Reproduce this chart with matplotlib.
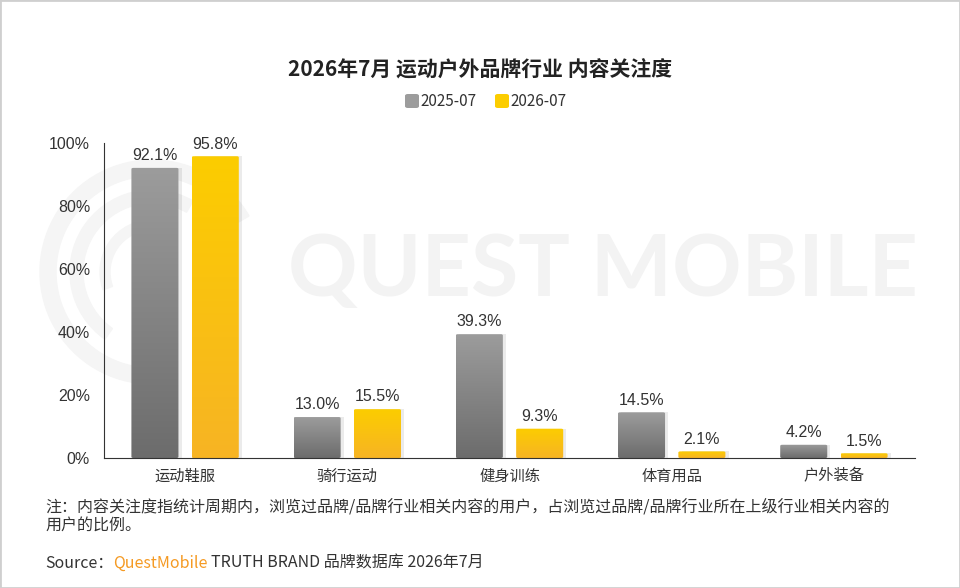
import numpy as np
import matplotlib
matplotlib.use("Agg")
import matplotlib.pyplot as plt
from matplotlib.patches import Wedge, Rectangle, FancyBboxPatch

plt.rcParams['font.family'] = ['Noto Sans CJK SC', 'DejaVu Sans']

categories = ["运动鞋服", "骑行运动", "健身训练", "体育用品", "户外装备"]
series_names = ["2025-07", "2026-07"]
vals_2025 = [92.1, 13.0, 39.3, 14.5, 4.2]
vals_2026 = [95.8, 15.5, 9.3, 2.1, 1.5]
yticks = [0, 20, 40, 60, 80, 100]

gray_top, gray_bot = "#9c9c9c", "#6c6c6c"
gold_top, gold_bot = "#fccd00", "#f7b424"

fig = plt.figure(figsize=(9.6, 5.88), dpi=100)
fig.patches.append(Rectangle((0, 0), 1, 1, transform=fig.transFigure,
                             fill=False, edgecolor="#cfcfcf", linewidth=2))

# watermark
wm = fig.add_axes([0, 0, 1, 1], zorder=-1)
wm.set_xlim(0, 960)
wm.set_ylim(588, 0)
wm.axis("off")
wm.text(288, 272, "QUEST MOBILE", fontsize=62, color="#f3f3f3",
        family="Lato", weight="bold", va="center", ha="left")
for r, w, t1, t2 in [(112, 16, 95, 330), (82, 13, 125, 300), (52, 10, 160, 270)]:
    wm.add_patch(Wedge((152, 272), r, t1, t2, width=w, color="#f5f5f5",
                       transform=wm.transData))

ax = fig.add_axes([104 / 960, 1 - 458 / 588, 811 / 960, 315 / 588])
ax.patch.set_alpha(0)
x = np.arange(len(categories))
bw = 0.29
off = 0.186


def grad_bar(xc, h, c_top, c_bot):
    # shadow
    ax.bar(xc + 0.02, h, bw, bottom=0, color="#000000", alpha=0.08, zorder=1)
    bar = ax.bar(xc, h, bw, color="none", zorder=2)[0]
    grad = np.linspace(0, 1, 256).reshape(-1, 1)
    ct = np.array(matplotlib.colors.to_rgb(c_top))
    cb = np.array(matplotlib.colors.to_rgb(c_bot))
    img = ct + (cb - ct) * grad[..., None]
    img = img.reshape(256, 1, 3)
    im = ax.imshow(img, extent=[xc - bw / 2, xc + bw / 2, 0, h],
                   aspect="auto", zorder=2, origin="upper")
    clip = FancyBboxPatch((xc - bw / 2, 0), bw, h,
                          boxstyle="round,pad=0,rounding_size=0.012",
                          mutation_aspect=30, transform=ax.transData,
                          facecolor="none", edgecolor="none")
    ax.add_patch(clip)
    im.set_clip_path(clip)
    ax.text(xc, h + 1.5, f"{h:.1f}%", ha="center", va="bottom",
            fontsize=11.5, color="#333333", family="Liberation Sans")
    return bar


for i in range(len(categories)):
    grad_bar(x[i] - off, vals_2025[i], gray_top, gray_bot)
    grad_bar(x[i] + off, vals_2026[i], gold_top, gold_bot)

ax.set_xlim(-0.5, len(categories) - 0.5)
ax.set_ylim(0, 100)
ax.set_yticks(yticks)
ax.set_yticklabels([f"{v}%" for v in yticks], fontsize=11.5, color="#333333",
                   family="Liberation Sans")
ax.set_xticks(x)
ax.set_xticklabels(categories, fontsize=11, color="#333333")
ax.tick_params(axis="both", length=0, pad=10)
ax.tick_params(axis="x", pad=7)
for s in ["top", "right"]:
    ax.spines[s].set_visible(False)
ax.spines["left"].set_color("#333333")
ax.spines["bottom"].set_color("#333333")

fig.text(0.5, 1 - 70 / 588, "2026年7月 运动户外品牌行业 内容关注度", ha="center",
         va="center", fontsize=15, weight="bold", color="#222222")

# legend
lx = [405, 495]
for i, name in enumerate(series_names):
    c = [gray_top, gold_top][i]
    fig.patches.append(FancyBboxPatch(((lx[i]) / 960, 1 - 108 / 588), 14 / 960, 14 / 588,
                                      boxstyle="round,pad=0,rounding_size=0.003",
                                      transform=fig.transFigure, facecolor=c,
                                      edgecolor="none"))
    fig.text((lx[i] + 15) / 960, 1 - 101 / 588, name, ha="left", va="center",
             fontsize=11, color="#333333")

fig.text(45 / 960, 1 - 507 / 588,
         "注：内容关注度指统计周期内，浏览过品牌/品牌行业相关内容的用户，占浏览过品牌/品牌行业所在上级行业相关内容的",
         ha="left", va="center", fontsize=11.5, color="#333333")
fig.text(45 / 960, 1 - 525 / 588, "用户的比例。", ha="left", va="center",
         fontsize=11.5, color="#333333")
t1 = fig.text(45 / 960, 1 - 563 / 588, "Source：", ha="left", va="center",
              fontsize=11.5, color="#333333")
fig.canvas.draw()
r = fig.canvas.get_renderer()
bb = t1.get_window_extent(r)
t2 = fig.text(bb.x1 / 960, 1 - 563 / 588, "QuestMobile", ha="left", va="center",
              fontsize=11.5, color="#f59a23")
bb2 = t2.get_window_extent(r)
fig.text(bb2.x1 / 960 + 0.004, 1 - 563 / 588, "TRUTH BRAND 品牌数据库 2026年7月",
         ha="left", va="center", fontsize=11.5, color="#333333")

fig.savefig("out.png", dpi=100)
